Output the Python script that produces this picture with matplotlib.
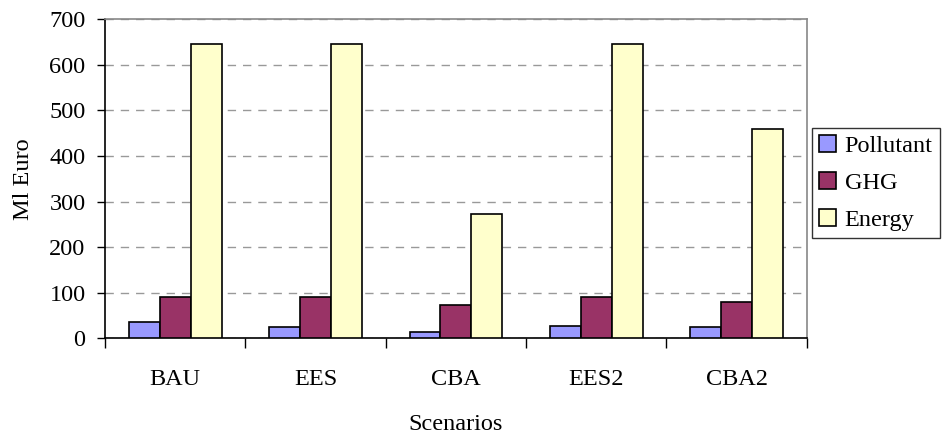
import matplotlib.pyplot as plt
import numpy as np

plt.rcParams['font.family'] = ['Liberation Serif', 'DejaVu Serif']

scenarios = ['BAU', 'EES', 'CBA', 'EES2', 'CBA2']
pollutant = [35, 24, 14, 27, 24]
ghg = [90, 90, 73, 90, 80]
energy = [645, 645, 272, 645, 459]

series = [('Pollutant', pollutant, '#9999FF'),
          ('GHG', ghg, '#993366'),
          ('Energy', energy, '#FFFFCC')]

fs = 17.5

fig = plt.figure(figsize=(9.42, 4.36), dpi=100)
ax = fig.add_axes([0.1115, 0.224, 0.745, 0.732])

x = np.arange(len(scenarios))
w = 0.22
for i, (name, vals, col) in enumerate(series):
    ax.bar(x + (i - 1) * w, vals, w, color=col, edgecolor='black',
           linewidth=1.2, label=name, zorder=3)

ax.set_xlim(-0.5, len(scenarios) - 0.5)
ax.set_ylim(0, 700)
ax.set_yticks(range(0, 701, 100))
ax.set_xticks(x)
ax.set_xticklabels(scenarios)
# category separators on the x axis
ax.set_xticks(np.arange(-0.5, len(scenarios)), minor=True)
ax.tick_params(axis='x', which='major', length=0, pad=22, labelsize=fs)
ax.tick_params(axis='x', which='minor', length=7, width=1, direction='out')
ax.tick_params(axis='y', length=6, width=1, direction='out', labelsize=fs, pad=8)

ax.yaxis.grid(True, linestyle=(0, (6, 5)), color='#999999', linewidth=1, zorder=0)
for s in ['left', 'bottom']:
    ax.spines[s].set_color('black')
    ax.spines[s].set_linewidth(1.2)
for s in ['top', 'right']:
    ax.spines[s].set_color('#888888')
    ax.spines[s].set_linewidth(1.2)

ax.set_ylabel('Ml Euro', fontsize=fs, labelpad=11)
ax.set_xlabel('Scenarios', fontsize=fs, labelpad=17)

leg = fig.legend(loc='center right', bbox_to_anchor=(940 / 942, 1 - 183 / 436),
                 fontsize=fs, frameon=True, fancybox=False, borderpad=0.3,
                 handlelength=0.7, handleheight=0.7, handletextpad=0.35,
                 labelspacing=0.6, borderaxespad=0)
leg.get_frame().set_edgecolor('black')
leg.get_frame().set_linewidth(1)

fig.savefig('out.png', dpi=100)
